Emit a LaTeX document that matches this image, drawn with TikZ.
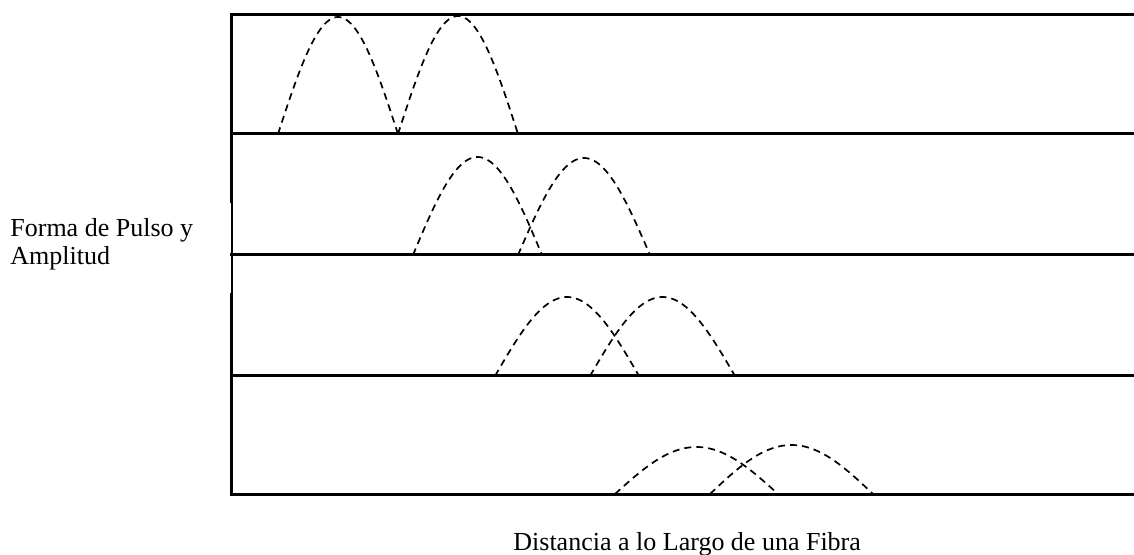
\documentclass[tikz,border=0pt]{standalone}
\usepackage{fontspec}
\setmainfont{Liberation Serif}
\begin{document}
\begin{tikzpicture}[x=0.5pt,y=-0.5pt,
  rule/.style={line width=1.5pt},
  thinrule/.style={line width=0.6pt},
  pulse/.style={line width=0.85pt, dash pattern=on 3.5pt off 2.5pt},
  lbl/.style={font=\fontsize{13}{14}\selectfont, inner sep=0pt}]
\useasboundingbox (0,0) rectangle (1134,555);
% panel separators
\foreach \y in {15,134,255,376,494}
  \draw[rule] (230,\y) -- (1134,\y);
% left axis
\draw[rule] (231,14.25) -- (231,203);
\draw[thinrule] (232,203) -- (232,293);
\draw[rule] (231,293) -- (231,494.75);
% pulses
\foreach \a/\b/\base/\h in {278/398/134/117, 398/518/134/118,
                            413/542/255/98, 518/650/255/97,
                            495/639/376/79, 590/735/376/79,
                            615/778/494/47, 710/873/494/49}
  \draw[pulse] plot[domain=0:1, samples=60, variable=\t]
     ({\a + \t*(\b-\a)}, {\base - \h*sin(\t*180)});
% labels
\node[lbl, anchor=base west, align=left] (ylabel) at (10,265) {Forma de Pulso y\\Amplitud};
\node[lbl, anchor=base west] (xlabel) at (513,550) {Distancia a lo Largo de una Fibra};
\end{tikzpicture}
\end{document}
